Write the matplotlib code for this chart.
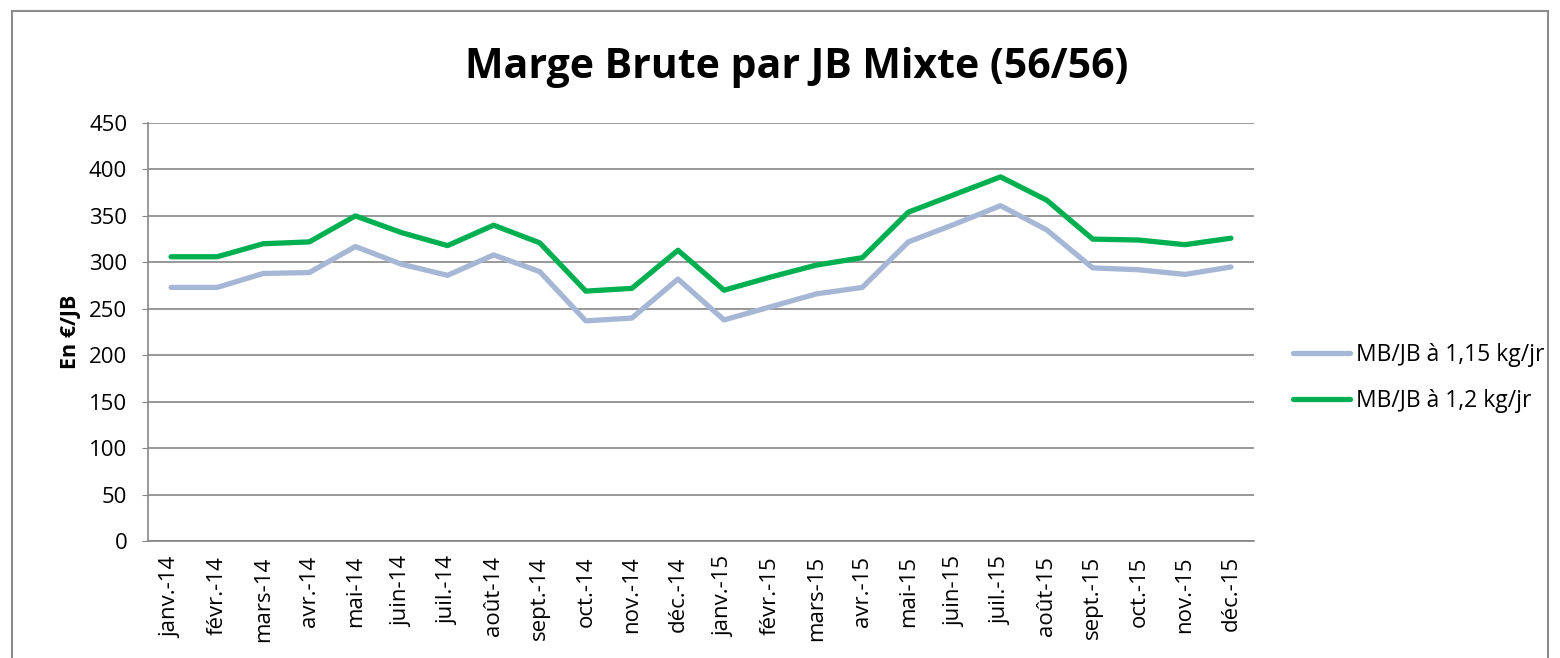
import matplotlib
matplotlib.use("Agg")
import matplotlib.pyplot as plt
from matplotlib.patches import Rectangle

plt.rcParams['font.family'] = ['Open Sans', 'DejaVu Sans']

months = ["janv.-14", "févr.-14", "mars-14", "avr.-14", "mai-14", "juin-14", "juil.-14",
          "août-14", "sept.-14", "oct.-14", "nov.-14", "déc.-14",
          "janv.-15", "févr.-15", "mars-15", "avr.-15", "mai-15", "juin-15", "juil.-15",
          "août-15", "sept.-15", "oct.-15", "nov.-15", "déc.-15"]

mb_115 = [273, 273, 288, 289, 317, 298, 286, 308, 290, 237, 240, 282,
          238, 252, 266, 273, 322, 341, 361, 335, 294, 292, 287, 295]
mb_12 = [306, 306, 320, 322, 350, 332, 318, 340, 321, 269, 272, 313,
         270, 284, 297, 305, 354, 373, 392, 367, 325, 324, 319, 326]

label_115 = "MB/JB à 1,15 kg/jr"
label_12 = "MB/JB à 1,2 kg/jr"
title = "Marge Brute par JB Mixte (56/56)"
ylabel = "En €/JB"
yticks = [0, 50, 100, 150, 200, 250, 300, 350, 400, 450]

fig = plt.figure(figsize=(15.6, 6.58), dpi=100)
fig.patches.append(Rectangle((12 / 1560, -0.01), (1548 - 12) / 1560, 1 - 11 / 658 + 0.01,
                             transform=fig.transFigure, fill=False,
                             edgecolor='#8c8c8c', linewidth=1.5, zorder=0))

ax = fig.add_axes([148 / 1560, 1 - 541 / 658, (1254 - 148) / 1560, (541 - 123) / 658])
x = list(range(len(months)))
ax.plot(x, mb_115, color='#A6B7D5', linewidth=3.8, label=label_115, solid_capstyle='round',
        solid_joinstyle='round', zorder=3)
ax.plot(x, mb_12, color='#00B050', linewidth=3.8, label=label_12, solid_capstyle='round',
        solid_joinstyle='round', zorder=4)

ax.set_xlim(-0.5, len(months) - 0.5)
ax.set_ylim(0, 450)
ax.set_yticks(yticks)
ax.set_xticks(x)
ax.set_xticklabels(months, rotation=90, fontsize=16)
ax.tick_params(axis='y', labelsize=16, length=4, color='#868686', pad=11)
ax.tick_params(axis='x', length=0, pad=11)
ax.grid(axis='y', color='#868686', linewidth=1.2)
ax.set_axisbelow(True)
for s in ['top', 'right']:
    ax.spines[s].set_visible(False)
for s in ['left', 'bottom']:
    ax.spines[s].set_color('#868686')
    ax.spines[s].set_linewidth(1.2)

ax.set_ylabel(ylabel, fontsize=15.5, fontweight='bold', labelpad=6)
fig.text(797 / 1560, 1 - 68 / 658, title, fontsize=29.5, fontweight='bold', ha='center', va='center')

leg = ax.legend(loc='center left', bbox_to_anchor=(1.035, 0.39), frameon=False, fontsize=16.5,
                handlelength=2.5, handletextpad=0.25, labelspacing=0.95,
                borderpad=0, borderaxespad=0)

fig.savefig("out.png", dpi=100)
